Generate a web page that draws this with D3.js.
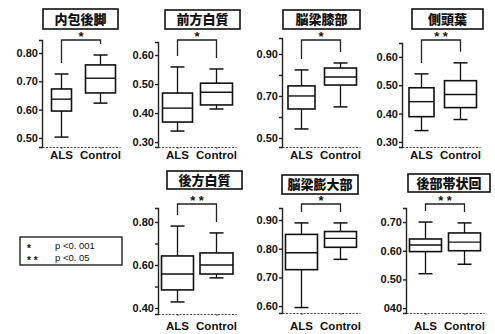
<!DOCTYPE html>
<html><head><meta charset="utf-8">
<script src="https://cdn.jsdelivr.net/npm/d3@7"></script>
<style>
body{margin:0;background:#fff;}
svg{display:block;}
text{font-family:"Liberation Sans",Arial,sans-serif;fill:#111;}
.ttl{font-family:"Noto Sans CJK JP",sans-serif;font-weight:900;}
</style></head>
<body>
<svg id="c" width="495" height="334"></svg>
<script>
// ---- data ----
const categories = ["ALS", "Control"];
const titles = ["内包後脚", "前方白質", "脳梁膝部", "側頭葉", "後方白質", "脳梁膨大部", "後部帯状回"];
// [whisker min, Q1, median, Q3, whisker max]
const alsStats = [
  [0.503, 0.595, 0.637, 0.673, 0.726],
  [0.338, 0.369, 0.417, 0.469, 0.559],
  [0.543, 0.638, 0.700, 0.748, 0.824],
  [0.340, 0.389, 0.442, 0.491, 0.540],
  [0.428, 0.484, 0.558, 0.642, 0.781],
  [0.595, 0.727, 0.786, 0.850, 0.890],
  [0.520, 0.597, 0.620, 0.641, 0.700]
];
const controlStats = [
  [0.623, 0.659, 0.711, 0.758, 0.793],
  [0.414, 0.428, 0.472, 0.503, 0.552],
  [0.648, 0.752, 0.790, 0.833, 0.857],
  [0.379, 0.421, 0.467, 0.516, 0.579],
  [0.540, 0.558, 0.600, 0.656, 0.749],
  [0.763, 0.805, 0.836, 0.860, 0.890],
  [0.553, 0.600, 0.630, 0.662, 0.697]
];
const significance = ["*", "*", "*", "* *", "* *", "*", "* *"];
const tickValues = [
  [0.5, 0.6, 0.7, 0.8],
  [0.3, 0.4, 0.5, 0.6],
  [0.5, 0.6, 0.7, 0.8, 0.9],
  [0.3, 0.4, 0.5, 0.6],
  [0.4, 0.5, 0.6, 0.7, 0.8],
  [0.6, 0.7, 0.8, 0.9],
  [0.4, 0.5, 0.6, 0.7]
];
const tickLabels = [
  ["0.50", "0.60", "0.70", "0.80"],
  ["0.30", "0.40", "0.50", "0.60"],
  ["0.50", "", "0.70", "", "0.90"],
  ["0.30", "0.40", "0.50", "0.60"],
  ["0.40", "", "0.60", "", "0.80"],
  ["0.60", "0.70", "0.80", "0.90"],
  ["040", "0.50", "0.60", "0.70"]
];
const legendSymbols = ["*", "* *"];
const legendLabels = ["p <0. 001", "p <0. 05"];

// ---- layout ----
const layout = [
  {ax: 42,  top: 40,  bot: 147, dom: [0.468, 0.846], tb: [43, 9, 75, 20],   bw: [20, 30], row: 0},
  {ax: 158, top: 42,  bot: 147, dom: [0.283, 0.645], tb: [165, 10, 75, 19], bw: [30, 32], row: 0},
  {ax: 282, top: 38,  bot: 147, dom: [0.457, 0.976], tb: [283, 10, 77, 19], bw: [27, 32], row: 0},
  {ax: 402, top: 43,  bot: 147, dom: [0.282, 0.649], tb: [412, 9, 71, 20],  bw: [25, 32], row: 0},
  {ax: 158, top: 208, bot: 314, dom: [0.372, 0.865], tb: [167, 171, 75, 18], bw: [32, 33], row: 1},
  {ax: 282, top: 208, bot: 313, dom: [0.576, 0.942], tb: [282, 175, 76, 19], bw: [32, 32], row: 1},
  {ax: 406, top: 208, bot: 313, dom: [0.383, 0.749], tb: [408, 174, 82, 18], bw: [32, 32], row: 1}
];
const rowInfo = [{bracket: 40, label: 159}, {bracket: 204, label: 330}];

const svg = d3.select("#c");

layout.forEach((L, i) => {
  const g = svg.append("g");
  const y = d3.scaleLinear().domain(L.dom).range([L.bot, L.top]);
  const x = d3.scalePoint().domain(categories).range([L.ax, L.ax + 78]).padding(0.5);

  // y axis
  const yAxis = d3.axisLeft(y).tickValues(tickValues[i])
    .tickFormat((d, k) => tickLabels[i][k]).tickSizeOuter(0).tickSize(3);
  const ya = g.append("g").attr("transform", `translate(${L.ax},0)`).call(yAxis);
  ya.select(".domain").attr("stroke", "#222").attr("stroke-width", 1.4);
  ya.selectAll(".tick line").attr("stroke", "#222").attr("stroke-width", 1.4);
  ya.selectAll(".tick text").attr("font-size", 11).attr("font-weight", 700)
    .attr("font-family", "Liberation Sans, Arial, sans-serif").attr("fill", "#111").attr("x", -4);

  // x axis (dotted)
  const xAxis = d3.axisBottom(x).tickSize(2).tickSizeOuter(0).tickFormat("");
  const xa = g.append("g").attr("transform", `translate(0,${L.bot})`).call(xAxis);
  xa.select(".domain").attr("stroke", "#444").attr("stroke-dasharray", "2,1.5").attr("stroke-width", 1);
  xa.selectAll(".tick line").attr("stroke", "#444");

  // x labels
  categories.forEach(c => {
    g.append("text").attr("x", x(c)).attr("y", rowInfo[L.row].label)
      .attr("text-anchor", "middle").attr("font-size", 11.5).attr("font-weight", 700).text(c);
  });

  // boxes
  const stats = [alsStats[i], controlStats[i]];
  categories.forEach((c, k) => {
    const s = stats[k];
    const cx = x(c), w = L.bw[k], cap = 14;
    const bg = g.append("g").attr("stroke", "#111").attr("fill", "none");
    bg.append("line").attr("x1", cx).attr("x2", cx).attr("y1", y(s[0])).attr("y2", y(s[1])).attr("stroke-width", 1.3);
    bg.append("line").attr("x1", cx).attr("x2", cx).attr("y1", y(s[3])).attr("y2", y(s[4])).attr("stroke-width", 1.3);
    bg.append("line").attr("x1", cx - cap / 2).attr("x2", cx + cap / 2).attr("y1", y(s[0])).attr("y2", y(s[0])).attr("stroke-width", 1.5);
    bg.append("line").attr("x1", cx - cap / 2).attr("x2", cx + cap / 2).attr("y1", y(s[4])).attr("y2", y(s[4])).attr("stroke-width", 1.5);
    bg.append("rect").attr("x", cx - w / 2).attr("width", w)
      .attr("y", y(s[3])).attr("height", y(s[1]) - y(s[3])).attr("stroke-width", 1.6).attr("fill", "#fff");
    bg.append("line").attr("x1", cx - w / 2).attr("x2", cx + w / 2).attr("y1", y(s[2])).attr("y2", y(s[2])).attr("stroke-width", 1.4);
  });

  // significance bracket
  const by = rowInfo[L.row].bracket;
  const x0 = x(categories[0]), x1 = x(categories[1]);
  const l0 = y(alsStats[i][4]) - 11, l1 = y(controlStats[i][4]) - 11;
  g.append("path").attr("d", `M${x0},${l0}V${by}H${x1}V${l1}`)
    .attr("fill", "none").attr("stroke", "#222").attr("stroke-width", 1.3);
  g.append("text").attr("x", (x0 + x1) / 2).attr("y", by + 1)
    .attr("text-anchor", "middle").attr("font-size", 13).attr("font-weight", 700).text(significance[i]);

  // title box
  const [tx, ty, tw, th] = L.tb;
  g.append("rect").attr("x", tx).attr("y", ty).attr("width", tw).attr("height", th)
    .attr("fill", "#fff").attr("stroke", "#111").attr("stroke-width", 1.6);
  g.append("text").attr("class", "ttl").attr("x", tx + tw / 2).attr("y", ty + th / 2 + 4.5)
    .attr("text-anchor", "middle").attr("font-size", 13).text(titles[i]);
});

// legend
const lg = svg.append("g");
lg.append("rect").attr("x", 20).attr("y", 237).attr("width", 102).attr("height", 28)
  .attr("fill", "#fff").attr("stroke", "#111").attr("stroke-width", 1.3);
legendSymbols.forEach((s, k) => {
  lg.append("text").attr("x", 27).attr("y", 251.5 + k * 12).attr("font-size", 10).attr("font-weight", 700).text(s);
  lg.append("text").attr("x", 55).attr("y", 248.5 + k * 12).attr("font-size", 9.5).text(legendLabels[k]);
});
</script>
</body></html>
